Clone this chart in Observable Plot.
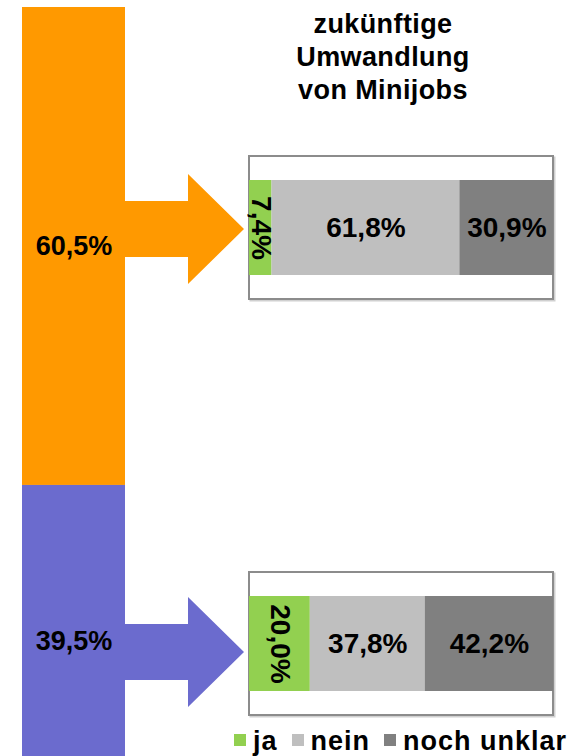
<!DOCTYPE html>
<html><head><meta charset="utf-8">
<script src="https://cdn.jsdelivr.net/npm/d3@7"></script>
<script src="https://cdn.jsdelivr.net/npm/@observablehq/plot@0.6"></script>
<style>
html,body{margin:0;padding:0;background:#fff;overflow:hidden;}
#chart{position:relative;width:573px;height:756px;overflow:hidden;font-family:"Liberation Sans",Arial,sans-serif;color:#000;}
#chart svg{position:absolute;left:0;top:0;}
#title{position:absolute;left:258px;width:250px;top:8px;text-align:center;font-weight:bold;font-size:27px;line-height:33px;letter-spacing:0.4px;}
#legend{position:absolute;left:234px;top:727px;display:flex;align-items:flex-start;font-weight:bold;font-size:27px;line-height:28px;letter-spacing:1px;white-space:nowrap;}
#legend .item{display:flex;align-items:flex-start;margin-right:14px;}
#legend .sw{width:12px;height:12px;margin-right:7px;margin-top:7px;}
</style></head>
<body><div id="chart"></div>
<script>
// ---- data ----
const groups = ["Gruppe 1", "Gruppe 2"];
const groupShares = [60.5, 39.5];
const answers = ["ja", "nein", "noch unklar"];
const answersGroup1 = [7.4, 61.8, 30.9];
const answersGroup2 = [20.0, 37.8, 42.2];
const gridTicks = [20, 40, 60, 80];
const titleLines = ["zukünftige", "Umwandlung", "von Minijobs"];

// ---- styles ----
const groupColors = ["#FF9900", "#6B6BCE"];
const answerColors = ["#92D050", "#BFBFBF", "#808080"];
const FONT = '"Liberation Sans", Arial, sans-serif';
const fmt = v => v.toFixed(1).replace(".", ",") + "%";

const chart = document.getElementById("chart");
const svgStyle = {background: "transparent", fontFamily: FONT};

// ---- left column ----
const leftData = groups.map((g, i) => ({group: g, value: groupShares[i], col: "gesamt"}));
const L = Plot.plot({
  width: 573, height: 756, margin: 0, style: svgStyle,
  x: {type: "band", domain: ["gesamt"], range: [22, 125], padding: 0, axis: null},
  y: {domain: [0, 100], range: [7, 797], axis: null},
  color: {domain: groups, range: groupColors},
  marks: [
    Plot.barY(leftData, Plot.stackY({x: "col", y: "value", fill: "group", order: null})),
    Plot.text(leftData, Plot.stackY({x: "col", y: "value", order: null, text: d => fmt(d.value),
      fontSize: 27, fontWeight: "bold", fill: "black"}))
  ]
});

// ---- right bars ----
const rowData = [];
[answersGroup1, answersGroup2].forEach((vals, gi) =>
  vals.forEach((v, ai) => rowData.push({group: groups[gi], answer: answers[ai], value: v})));
const gridData = gridTicks.map(t => ({tick: t, group: groups[0]}));
const R = Plot.plot({
  width: 573, height: 756, margin: 0, style: svgStyle,
  x: {domain: [0, 100], range: [249, 553], axis: null},
  y: {type: "band", domain: groups, range: [179, 691], paddingInner: 0.772, paddingOuter: 0, axis: null},
  color: {domain: answers, range: answerColors},
  marks: [
    Plot.barX(groups, {x1: 0, x2: 100, y: d => d, dx: 1.5, dy: 1.5, insetTop: -24, insetBottom: -24,
      fill: "none", stroke: "#d0d0d0", strokeWidth: 2}),
    Plot.barX(groups, {x1: 0, x2: 100, y: d => d, insetTop: -24, insetBottom: -24,
      fill: "white", stroke: "#8c8c8c", strokeWidth: 2}),
    Plot.ruleX(gridData, {x: "tick", y: "group", insetTop: -24, insetBottom: -24,
      stroke: "#7f7f7f", strokeWidth: 1.3, strokeDasharray: "8,3"}),
    Plot.barX(rowData, Plot.stackX({y: "group", x: "value", fill: "answer", order: null})),
    Plot.text(rowData, Plot.stackX({y: "group", x: "value", order: null,
      text: d => d.answer === "ja" ? "" : fmt(d.value),
      fontSize: 28, fontWeight: "bold", fill: "black"})),
    Plot.text(rowData, Plot.stackX({y: "group", x: "value", order: null,
      text: d => d.answer === "ja" ? fmt(d.value) : "", rotate: 90,
      fontSize: 28, fontWeight: "bold", fill: "black"}))
  ]
});

// ---- arrows (geometry derived from the two plots' scales) ----
const lx = L.scale("x"), rx = R.scale("x"), ry = R.scale("y");
const arrowStart = lx.apply("gesamt") + lx.bandwidth - 1;
const arrowShape = {shaftHalf: 28, headHalf: 55, headLength: 56, tipGap: 5};
const arrowShift = [1.5, 8.5];
const arrowPts = groups.flatMap((g, i) => {
  const cy = ry.apply(g) + ry.bandwidth / 2 + arrowShift[i];
  const tip = rx.apply(0) - arrowShape.tipGap;
  const hs = tip - arrowShape.headLength;
  const s = arrowShape.shaftHalf, h = arrowShape.headHalf;
  return [
    {group: g, x: arrowStart, y1: cy - s, y2: cy + s},
    {group: g, x: hs, y1: cy - s, y2: cy + s},
    {group: g, x: hs, y1: cy - h, y2: cy + h},
    {group: g, x: tip, y1: cy, y2: cy}
  ];
});
const A = Plot.plot({
  width: 573, height: 756, margin: 0, style: svgStyle,
  x: {type: "identity", axis: null}, y: {type: "identity", axis: null},
  color: {domain: groups, range: groupColors},
  marks: [
    Plot.areaY(arrowPts, {x: "x", y1: "y1", y2: "y2", z: "group", fill: "group", curve: "linear"})
  ]
});

chart.appendChild(L);
chart.appendChild(A);
chart.appendChild(R);

// ---- title ----
const title = document.createElement("div");
title.id = "title";
titleLines.forEach(t => { const d = document.createElement("div"); d.textContent = t; title.appendChild(d); });
chart.appendChild(title);

// ---- legend ----
const legend = document.createElement("div");
legend.id = "legend";
answers.forEach((a, i) => {
  const it = document.createElement("div"); it.className = "item";
  const sw = document.createElement("div"); sw.className = "sw"; sw.style.background = answerColors[i];
  const tx = document.createElement("span"); tx.textContent = a;
  it.appendChild(sw); it.appendChild(tx); legend.appendChild(it);
});
chart.appendChild(legend);
</script>
</body></html>
